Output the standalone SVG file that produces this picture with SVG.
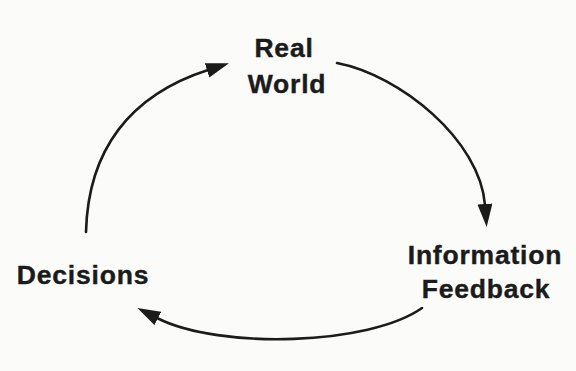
<svg xmlns="http://www.w3.org/2000/svg" width="576" height="371" viewBox="0 0 576 371">
  <style>
    .lbl { font-family: "Liberation Sans", Arial, Helvetica, sans-serif; font-weight: bold; font-size: 26.5px; letter-spacing: 0.8px; fill: #1b1b1b; stroke: #1b1b1b; stroke-width: 0.4; text-anchor: middle; }
    .conn { fill: none; stroke: #1b1b1b; stroke-width: 2.6; stroke-linecap: round; }
  </style>
  <defs>
    <marker id="arrow" markerUnits="userSpaceOnUse" markerWidth="24" markerHeight="16" refX="1" refY="7.5" orient="auto">
      <path d="M0,0 L23,7.5 L0,15 z" fill="#1b1b1b"/>
    </marker>
  </defs>
  <rect width="576" height="371" fill="#fbfbfa"/>
  <g id="connectors">
    <path class="conn" d="M86,232 C88,150 130,95 208,70" marker-end="url(#arrow)"/>
    <path class="conn" d="M337,63 C400,75 480,140 485,205" marker-end="url(#arrow)"/>
    <path class="conn" d="M422,308 C370,345 220,350 157,318" marker-end="url(#arrow)"/>
  </g>
  <g id="real-world">
    <text class="lbl" x="284" y="57">Real</text>
    <text class="lbl" x="287" y="93">World</text>
  </g>
  <g id="information-feedback">
    <text class="lbl" x="485" y="264">Information</text>
    <text class="lbl" x="486" y="298">Feedback</text>
  </g>
  <g id="decisions">
    <text class="lbl" x="83" y="284">Decisions</text>
  </g>
</svg>
